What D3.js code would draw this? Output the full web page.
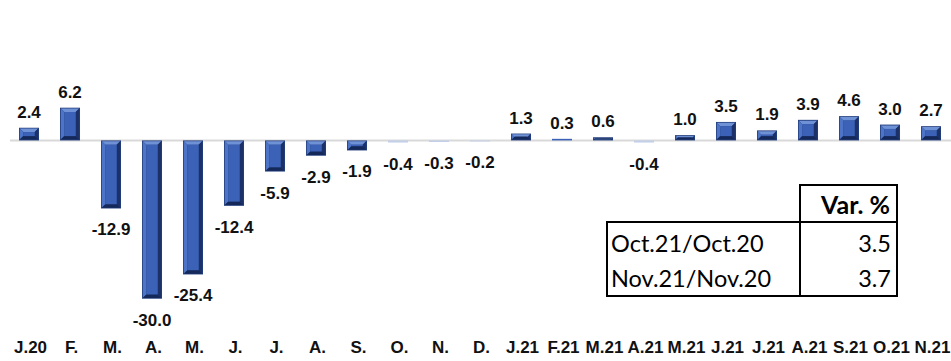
<!DOCTYPE html>
<html>
<head>
<meta charset="utf-8">
<script src="https://cdn.jsdelivr.net/npm/d3@7"></script>
<style>
  html, body { margin: 0; padding: 0; background: #ffffff; }
  svg { display: block; }
</style>
</head>
<body>
<svg id="chart" width="951" height="361"></svg>
<script>
// Monthly year-on-year variation (%), Jan 2020 – Nov 2021
const months = ["J.20","F.","M.","A.","M.","J.","J.","A.","S.","O.","N.","D.",
                "J.21","F.21","M.21","A.21","M.21","J.21","J.21","A.21","S.21","O.21","N.21"];
const values = [2.4, 6.2, -12.9, -30.0, -25.4, -12.4, -5.9, -2.9, -1.9, -0.4, -0.3, -0.2,
                1.3, 0.3, 0.6, -0.4, 1.0, 3.5, 1.9, 3.9, 4.6, 3.0, 2.7];

// Summary table
const tableHeader = "Var. %";
const tableRows = ["Oct.21/Oct.20", "Nov.21/Nov.20"];
const tableValues = ["3.5", "3.7"];

const svg = d3.select("#chart");

const x = d3.scaleBand()
  .domain(d3.range(months.length))
  .range([8.5, 951.5])
  .paddingInner(0.512)
  .paddingOuter(0.256);

const y = d3.scaleLinear()
  .domain([-30, 6.2])
  .range([298.7, 107.7]);

const y0 = y(0);

// zero line
svg.append("line")
  .attr("x1", 10).attr("x2", 951)
  .attr("y1", y0).attr("y2", y0)
  .attr("stroke", "#d9d9d9")
  .attr("stroke-width", 2);

// bevelled bars
const colors = {
  edge: "#243f7e",
  face: "#3b62b6",
  light: "#6f92d6",
  dark: "#1c3168",
  side: "#4d74c6",
  thin: "#c3cfe8"
};

svg.append("g").selectAll("g")
  .data(values)
  .join("g")
  .each(function(v, i) {
    const g = d3.select(this);
    const x0 = x(i), w = x.bandwidth();
    const top = Math.min(y(v), y0), bot = Math.max(y(v), y0);
    const h = bot - top;
    const x1 = x0 + w;
    const b = Math.min(3.5, h / 2.2, w / 4);
    // very shallow negative bars only show their pale upper bevel
    if (v < 0 && h < 3) {
      g.append("rect")
        .attr("x", x0).attr("y", top)
        .attr("width", w).attr("height", h)
        .attr("fill", colors.thin);
      return;
    }
    // outer rim
    g.append("rect")
      .attr("x", x0).attr("y", top)
      .attr("width", w).attr("height", h)
      .attr("fill", colors.edge);
    const ix0 = x0 + 0.8, ix1 = x1 - 0.8, iy0 = top + 0.8, iy1 = bot - 0.8;
    if (iy1 - iy0 <= 0.4) {
      g.select("rect").attr("fill", colors.face);
      return;
    }
    const line = d3.line();
    // top bevel
    g.append("path").attr("fill", colors.light)
      .attr("d", line([[ix0, iy0], [ix1, iy0], [ix1 - b, iy0 + b], [ix0 + b, iy0 + b]]) + "Z");
    // left bevel
    g.append("path").attr("fill", colors.side)
      .attr("d", line([[ix0, iy0], [ix0 + b, iy0 + b], [ix0 + b, iy1 - b], [ix0, iy1]]) + "Z");
    // right bevel
    g.append("path").attr("fill", colors.dark)
      .attr("d", line([[ix1, iy0], [ix1, iy1], [ix1 - b, iy1 - b], [ix1 - b, iy0 + b]]) + "Z");
    // bottom bevel
    g.append("path").attr("fill", "#15285a")
      .attr("d", line([[ix0, iy1], [ix0 + b, iy1 - b], [ix1 - b, iy1 - b], [ix1, iy1]]) + "Z");
    // face
    if (iy1 - iy0 > 2 * b) {
      g.append("rect")
        .attr("x", ix0 + b).attr("y", iy0 + b)
        .attr("width", Math.max(0, ix1 - ix0 - 2 * b))
        .attr("height", Math.max(0, iy1 - iy0 - 2 * b))
        .attr("fill", colors.face);
    }
  });

// value labels
svg.append("g").selectAll("text")
  .data(values)
  .join("text")
  .attr("x", (d, i) => x(i) + x.bandwidth() / 2)
  .attr("y", d => d >= 0 ? y(d) - 10 : y(d) + 27)
  .attr("text-anchor", "middle")
  .attr("font-family", "'Liberation Sans', Arial, sans-serif")
  .attr("font-weight", "bold")
  .attr("font-size", 17)
  .attr("fill", "#111")
  .text(d => d.toFixed(1));

// category axis labels
const xAxis = d3.axisBottom(x)
  .tickFormat(i => months[i])
  .tickSize(0)
  .tickPadding(0);

const ax = svg.append("g")
  .attr("transform", "translate(1.5, 340)")
  .call(xAxis);
ax.select(".domain").remove();
ax.selectAll("text")
  .attr("dy", "0.75em")
  .attr("font-family", "'Liberation Sans', Arial, sans-serif")
  .attr("font-weight", "bold")
  .attr("font-size", 17)
  .attr("fill", "#111");

// summary table
const tbl = svg.append("g");
const tf = "Lato, 'Open Sans', sans-serif";
function seg(x1, y1, x2, y2) {
  tbl.append("line").attr("x1", x1).attr("y1", y1).attr("x2", x2).attr("y2", y2)
    .attr("stroke", "#000").attr("stroke-width", 2).attr("stroke-linecap", "square");
}
const tL = 607, tM = 800, tR = 897, tTop = 185, tHead = 222, tBot = 296;
seg(tM, tTop, tR, tTop);
seg(tM, tTop, tM, tBot);
seg(tR, tTop, tR, tBot);
seg(tL, tHead, tR, tHead);
seg(tL, tHead, tL, tBot);
seg(tL, tBot, tR, tBot);

tbl.append("text")
  .attr("x", 890).attr("y", 214)
  .attr("text-anchor", "end")
  .attr("font-family", tf)
  .attr("font-weight", "bold")
  .attr("font-size", 25)
  .attr("fill", "#000")
  .text(tableHeader);

const rowBase = [252, 287];
tableRows.forEach((r, i) => {
  tbl.append("text")
    .attr("x", 611).attr("y", rowBase[i])
    .attr("font-family", tf)
    .attr("font-size", 23.5)
    .attr("fill", "#000")
    .text(r);
  tbl.append("text")
    .attr("x", 891).attr("y", rowBase[i])
    .attr("text-anchor", "end")
    .attr("font-family", tf)
    .attr("font-size", 23.5)
    .attr("fill", "#000")
    .text(tableValues[i]);
});
</script>
</body>
</html>
